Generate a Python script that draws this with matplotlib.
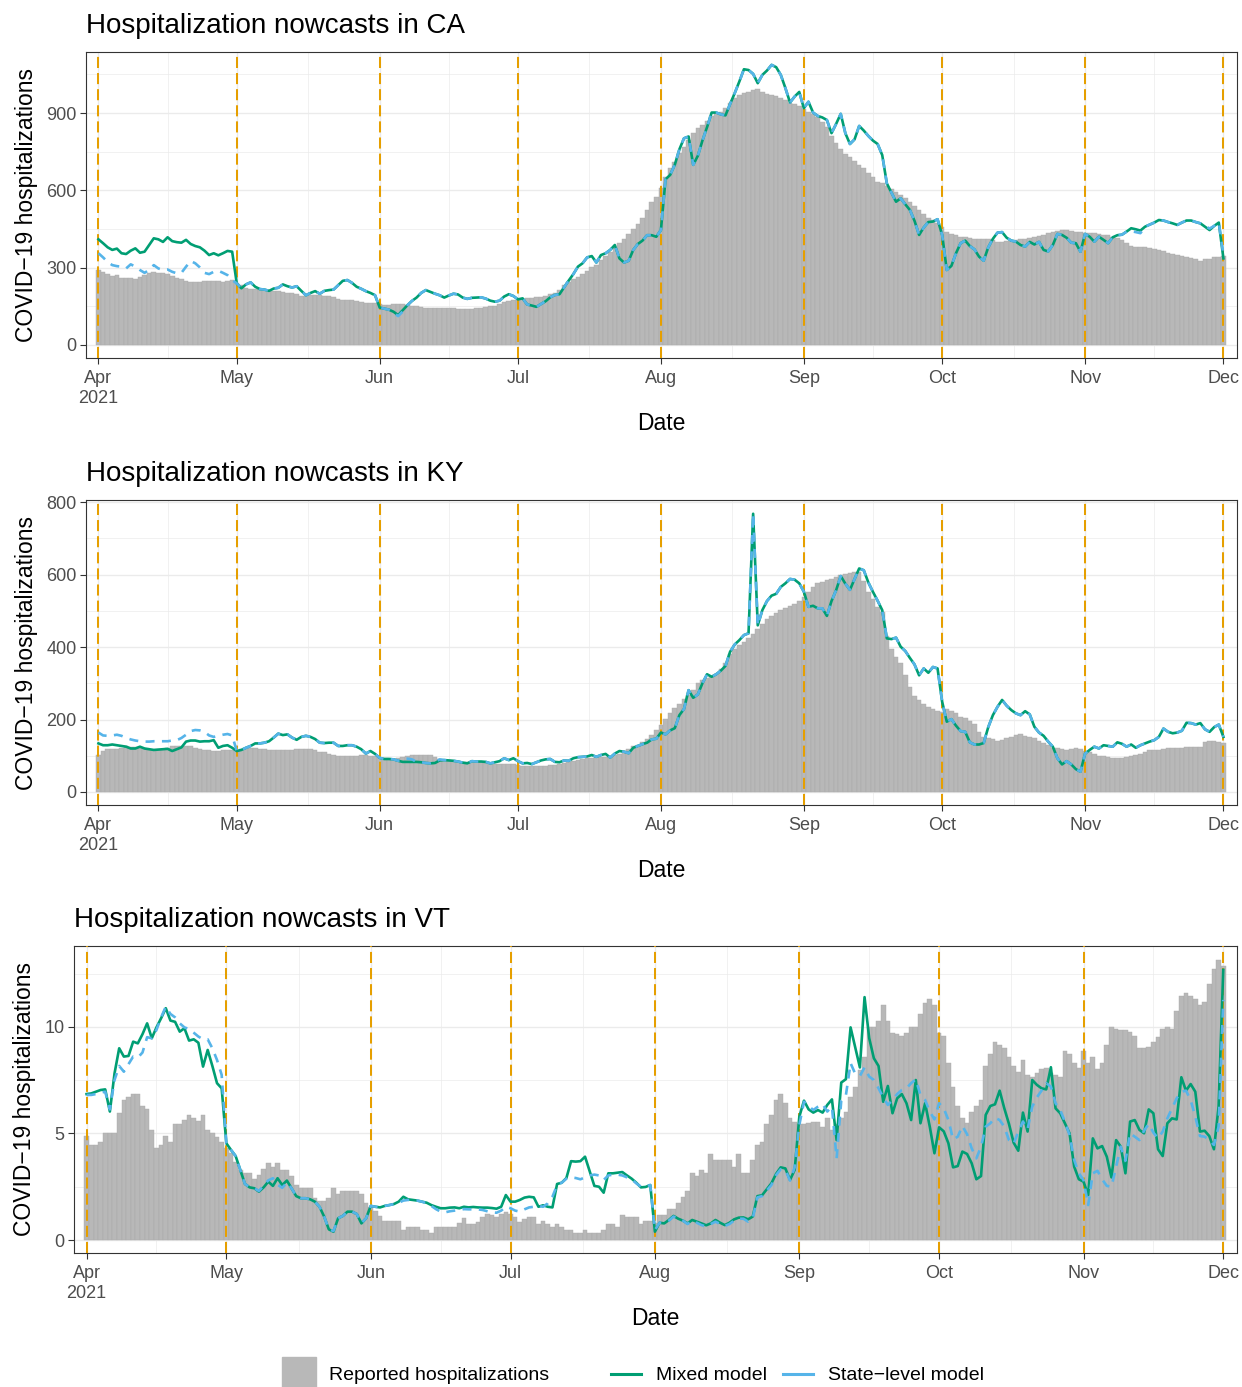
import matplotlib
matplotlib.use('Agg')
import matplotlib.pyplot as plt
from matplotlib.patches import Rectangle
from matplotlib.lines import Line2D
import pandas as pd

plt.rcParams['font.family'] = ['Liberation Sans', 'DejaVu Sans']

# ---- data ----
dates = pd.date_range('2021-04-01', '2021-12-01', freq='D')
month_starts = pd.date_range('2021-04-01', '2021-12-01', freq='MS')
month_labels = ['Apr\n2021', 'May', 'Jun', 'Jul', 'Aug', 'Sep', 'Oct', 'Nov', 'Dec']

ca_reported = [
    291, 285, 276, 269, 270, 260, 260, 260, 258, 265, 270, 278, 283, 281, 278, 274, 268, 261, 255, 247,
    245, 245, 246, 248, 248, 248, 247, 245, 247, 252,
    240, 231, 223, 218, 218, 215, 215, 213, 210, 210, 205, 202, 202, 197, 192, 192, 193, 193, 193, 192,
    192, 187, 180, 176, 176, 174, 171, 166, 163, 163, 163,
    158, 155, 155, 158, 158, 158, 155, 153, 153, 147, 145, 145, 142, 142, 142, 142, 142, 140, 140, 140,
    140, 142, 142, 147, 150, 153, 160, 166, 171, 174,
    176, 180, 184, 184, 187, 187, 192, 197, 202, 215, 231, 245, 255, 265, 276, 289, 302, 311, 328, 344,
    359, 377, 395, 413, 431, 449, 468, 492, 524, 553, 576,
    608, 653, 685, 711, 744, 770, 796, 822, 841, 854, 871, 889, 899, 906, 919, 941, 958, 971, 977, 982,
    990, 992, 980, 975, 972, 967, 959, 951, 941, 936, 928,
    915, 906, 897, 886, 867, 845, 811, 783, 760, 741, 728, 715, 698, 685, 668, 650, 633, 627, 617, 604,
    595, 582, 572, 556, 539, 524, 507, 494, 485, 472,
    456, 440, 431, 425, 420, 418, 414, 412, 411, 410, 410, 407, 401, 401, 404, 407, 407, 410, 412, 414,
    418, 423, 427, 433, 440, 444, 446, 446, 443, 440, 437,
    436, 436, 433, 431, 428, 425, 420, 414, 407, 397, 384, 379, 379, 379, 375, 371, 369, 363, 358, 353,
    349, 345, 343, 338, 332, 327, 332, 335, 340, 343, 345]
ca_mixed = [
    410, 395, 379, 369, 374, 356, 353, 366, 375, 358, 362, 388, 414, 410, 400, 418, 403, 399, 397, 408,
    392, 384, 379, 366, 349, 356, 348, 356, 365, 362,
    239, 220, 235, 243, 226, 217, 215, 210, 219, 222, 235, 228, 223, 228, 210, 193, 202, 209, 199, 210,
    213, 215, 232, 249, 252, 241, 226, 218, 209, 202, 193,
    145, 141, 137, 129, 116, 135, 154, 171, 184, 202, 213, 206, 199, 193, 184, 192, 199, 196, 184, 179,
    183, 184, 185, 180, 172, 168, 172, 188, 197, 190,
    177, 181, 157, 153, 148, 159, 170, 185, 194, 197, 224, 250, 275, 304, 317, 340, 345, 320, 349, 356,
    369, 388, 336, 320, 327, 369, 392, 405, 426, 426, 420,
    446, 643, 660, 699, 759, 802, 809, 699, 734, 793, 845, 902, 902, 895, 891, 935, 977, 1022, 1070, 1067,
    1052, 1016, 1048, 1065, 1087, 1078, 1048, 997, 941, 964, 982,
    919, 944, 902, 889, 883, 873, 822, 858, 897, 822, 780, 798, 850, 832, 811, 793, 780, 737, 627, 591,
    556, 569, 546, 524, 482, 427, 456, 477, 479, 488,
    427, 291, 307, 356, 395, 405, 384, 371, 343, 327, 379, 412, 436, 438, 416, 405, 401, 388, 382, 400,
    390, 400, 369, 363, 388, 431, 427, 416, 397, 395, 362,
    431, 420, 401, 420, 408, 395, 418, 426, 428, 440, 453, 449, 444, 459, 467, 475, 485, 483, 477, 472,
    466, 475, 483, 483, 477, 472, 459, 446, 462, 475, 336]
ca_state = [
    356, 340, 322, 310, 306, 304, 297, 313, 304, 291, 280, 291, 310, 297, 291, 293, 284, 278, 280, 304,
    326, 317, 301, 280, 275, 284, 288, 280, 271, 252,
    239, 220, 235, 243, 226, 217, 215, 210, 219, 222, 235, 228, 223, 228, 210, 193, 202, 209, 199, 210,
    213, 215, 232, 249, 252, 241, 226, 218, 209, 202, 193,
    145, 141, 137, 125, 112, 130, 154, 171, 184, 202, 213, 206, 199, 193, 184, 192, 199, 196, 184, 179,
    183, 184, 185, 180, 172, 168, 172, 188, 197, 190,
    177, 181, 157, 153, 148, 159, 170, 185, 194, 197, 224, 250, 275, 304, 317, 340, 345, 320, 349, 356,
    369, 388, 336, 320, 327, 369, 392, 405, 426, 426, 420,
    446, 643, 660, 699, 759, 802, 809, 699, 734, 793, 845, 902, 902, 895, 891, 935, 977, 1022, 1070, 1067,
    1052, 1016, 1048, 1065, 1087, 1078, 1048, 997, 941, 964, 982,
    919, 944, 902, 889, 883, 873, 822, 858, 897, 822, 780, 798, 850, 832, 811, 793, 780, 737, 627, 591,
    556, 569, 546, 524, 482, 427, 456, 477, 479, 488,
    427, 291, 307, 356, 395, 405, 384, 371, 343, 327, 379, 412, 436, 438, 416, 405, 401, 388, 382, 400,
    390, 400, 369, 363, 388, 431, 427, 416, 397, 395, 362,
    431, 420, 401, 420, 408, 395, 418, 426, 428, 440, 442, 438, 434, 459, 467, 475, 485, 483, 477, 472,
    466, 475, 483, 483, 477, 472, 462, 452, 462, 475, 349]

ky_reported = [
    102, 113, 119, 119, 119, 120, 128, 125, 125, 122, 119, 117, 117, 117, 119, 120, 128, 128, 128, 128,
    128, 122, 119, 117, 115, 113, 113, 115, 117, 115,
    113, 119, 119, 120, 120, 119, 119, 117, 116, 116, 116, 116, 117, 119, 119, 119, 119, 116, 111, 109,
    106, 102, 100, 100, 100, 100, 100, 102, 102, 100, 98,
    93, 93, 93, 91, 93, 97, 100, 102, 103, 103, 103, 102, 97, 91, 88, 88, 86, 85, 83, 83,
    83, 83, 83, 79, 79, 78, 78, 76, 76, 76,
    74, 72, 72, 72, 72, 72, 72, 74, 74, 76, 80, 83, 85, 88, 91, 93, 94, 96, 97, 97,
    98, 102, 106, 113, 119, 126, 131, 139, 146, 157, 171,
    185, 201, 217, 231, 242, 256, 267, 281, 300, 309, 315, 321, 327, 339, 355, 380, 396, 407, 415, 426,
    437, 451, 465, 477, 486, 495, 502, 508, 513, 520, 527,
    539, 553, 566, 576, 580, 585, 589, 593, 598, 602, 604, 606, 606, 582, 553, 532, 510, 497, 430, 395,
    373, 355, 322, 290, 264, 253, 244, 235, 229, 223,
    222, 229, 223, 217, 208, 203, 196, 187, 166, 153, 148, 145, 142, 143, 148, 153, 157, 159, 155, 153,
    148, 140, 134, 129, 122, 120, 118, 116, 118, 120, 118,
    113, 109, 104, 100, 98, 96, 93, 94, 94, 96, 100, 103, 106, 111, 116, 116, 117, 118, 122, 122,
    120, 122, 123, 124, 125, 125, 137, 140, 140, 137, 134]
ky_mixed = [
    134, 129, 129, 131, 129, 127, 125, 120, 120, 125, 120, 118, 116, 117, 118, 119, 113, 118, 123, 139,
    142, 142, 139, 140, 140, 143, 122, 127, 129, 122,
    113, 116, 122, 127, 134, 134, 136, 140, 150, 161, 157, 159, 150, 144, 152, 155, 152, 146, 136, 135,
    136, 136, 127, 127, 129, 129, 125, 118, 106, 113, 105,
    94, 91, 91, 90, 86, 83, 83, 83, 83, 82, 80, 79, 80, 87, 88, 87, 86, 84, 81, 79,
    85, 84, 84, 83, 79, 82, 85, 93, 88, 93,
    85, 79, 80, 77, 82, 87, 90, 91, 83, 82, 87, 86, 93, 96, 97, 98, 102, 97, 102, 105,
    95, 106, 113, 111, 107, 122, 127, 132, 136, 145, 147,
    164, 159, 170, 176, 212, 229, 281, 260, 269, 300, 325, 318, 325, 335, 348, 387, 407, 419, 433, 438,
    768, 460, 502, 527, 542, 547, 566, 576, 588, 586, 576,
    553, 511, 514, 507, 507, 486, 527, 557, 596, 575, 558, 588, 617, 612, 578, 552, 528, 502, 424, 422,
    426, 401, 389, 370, 352, 322, 341, 329, 345, 341,
    249, 194, 201, 183, 168, 166, 137, 131, 131, 135, 179, 212, 235, 254, 238, 226, 217, 212, 223, 214,
    180, 164, 155, 139, 125, 93, 76, 85, 76, 63, 56,
    106, 116, 125, 120, 129, 127, 125, 137, 133, 125, 131, 122, 129, 134, 139, 143, 152, 175, 166, 162,
    164, 169, 191, 190, 186, 190, 173, 166, 179, 186, 152]
ky_state = [
    164, 156, 155, 156, 158, 155, 149, 145, 142, 140, 139, 139, 140, 140, 140, 140, 142, 143, 149, 158,
    168, 171, 170, 166, 156, 152, 155, 158, 160, 156,
    113, 116, 122, 127, 134, 134, 136, 140, 150, 161, 157, 159, 150, 144, 152, 155, 152, 146, 136, 135,
    136, 136, 127, 127, 129, 129, 125, 118, 106, 113, 105,
    94, 91, 91, 90, 86, 92, 92, 90, 83, 82, 80, 79, 82, 90, 88, 87, 86, 84, 81, 79,
    85, 84, 84, 83, 79, 82, 85, 93, 88, 93,
    85, 79, 80, 77, 82, 87, 90, 91, 83, 82, 87, 86, 93, 96, 97, 98, 102, 97, 102, 105,
    95, 106, 113, 111, 107, 122, 127, 132, 136, 145, 147,
    164, 159, 170, 176, 212, 229, 281, 260, 269, 300, 325, 318, 325, 335, 348, 387, 407, 419, 433, 438,
    768, 460, 502, 527, 542, 547, 566, 576, 588, 586, 576,
    553, 511, 514, 507, 507, 486, 527, 557, 596, 575, 558, 588, 617, 612, 578, 552, 528, 502, 424, 422,
    426, 401, 389, 370, 352, 322, 341, 329, 345, 341,
    249, 194, 201, 183, 168, 166, 137, 131, 131, 135, 179, 212, 235, 254, 238, 226, 217, 212, 223, 214,
    180, 164, 155, 139, 125, 93, 76, 85, 76, 63, 56,
    106, 116, 125, 120, 129, 127, 125, 137, 133, 125, 131, 122, 129, 134, 139, 143, 152, 175, 166, 162,
    164, 169, 191, 190, 186, 190, 173, 166, 179, 186, 152]

vt_reported = [
    4.88, 4.46, 4.46, 4.62, 5.04, 5.04, 5.04, 5.95, 6.57, 6.73, 6.85, 6.85, 6.31, 6.13, 5.17, 4.30, 4.46,
    4.88, 4.62, 5.45, 5.45, 5.63, 5.87, 5.71, 5.60, 5.87, 5.17, 5.04, 4.84, 4.62,
    4.30, 4.07, 3.68, 3.29, 3.13, 3.13, 2.85, 3.05, 3.32, 3.63, 3.44, 3.63, 3.29, 3.29, 3.00, 2.58, 2.43,
    2.43, 2.43, 1.96, 1.85, 1.85, 1.96, 2.43, 2.16, 2.32, 2.32, 2.32, 2.32, 2.16, 1.72,
    1.56, 1.38, 1.13, 0.91, 0.91, 0.91, 0.91, 0.47, 0.59, 0.59, 0.59, 0.47, 0.47, 0.34, 0.59, 0.59, 0.59,
    0.59, 0.59, 0.81, 1.02, 0.75, 0.75, 0.86, 1.06, 1.22, 1.17, 1.10, 1.22, 1.33,
    1.22, 1.06, 0.86, 0.97, 1.06, 1.06, 0.75, 0.91, 0.75, 0.59, 0.75, 0.59, 0.47, 0.47, 0.34, 0.34, 0.47,
    0.34, 0.34, 0.34, 0.47, 0.75, 0.75, 0.59, 1.17, 1.06, 1.06, 1.06, 0.75, 0.91, 0.91,
    0.78, 1.17, 1.17, 1.44, 1.44, 1.72, 2.03, 2.32, 3.13, 3.00, 3.29, 3.16, 4.04, 3.76, 3.76, 3.76, 3.76,
    3.44, 4.04, 3.16, 3.16, 3.76, 4.46, 4.62, 5.45, 5.87, 6.57, 6.85, 6.42, 5.71, 5.56,
    5.45, 5.45, 5.51, 5.56, 5.56, 5.29, 5.71, 5.17, 5.45, 5.71, 6.03, 6.73, 7.20, 7.98, 8.61, 9.98, 9.98,
    10.28, 11.03, 10.30, 9.70, 9.67, 9.58, 9.70, 9.98, 9.98, 10.61, 11.14, 11.30, 11.03,
    9.70, 9.58, 8.29, 7.20, 6.29, 5.71, 5.48, 6.03, 6.29, 6.57, 8.17, 8.73, 9.28, 9.15, 9.00, 8.58, 8.17,
    7.90, 8.45, 7.75, 7.67, 7.86, 8.01, 8.06, 7.82, 7.75, 7.64, 8.87, 8.73, 8.29, 8.06,
    8.87, 8.33, 8.58, 8.01, 8.29, 9.15, 9.98, 9.89, 9.86, 9.86, 9.78, 9.58, 9.00, 9.00, 9.05, 9.31, 9.55,
    9.89, 9.98, 9.89, 10.77, 11.46, 11.58, 11.46, 11.30, 11.03, 11.19, 12.02, 12.71, 13.15, 12.86]
vt_mixed = [
    6.85, 6.88, 6.96, 7.04, 7.07, 6.03, 7.82, 9.00, 8.61, 8.64, 9.31, 9.23, 9.66, 10.17, 9.47, 9.98, 10.41,
    10.88, 10.30, 10.24, 9.78, 9.94, 9.36, 9.42, 9.26, 8.14, 8.92, 8.17, 7.36, 7.12,
    4.54, 4.23, 3.94, 3.29, 2.63, 2.47, 2.43, 2.27, 2.47, 2.74, 2.54, 2.90, 2.58, 2.79, 2.43, 2.06, 1.96,
    1.96, 1.91, 1.80, 1.56, 1.10, 0.50, 0.39, 1.02, 1.13, 1.33, 1.33, 1.22, 0.78, 1.02,
    1.60, 1.56, 1.53, 1.60, 1.64, 1.69, 1.80, 2.03, 1.91, 1.88, 1.85, 1.80, 1.75, 1.64, 1.56, 1.49, 1.49,
    1.52, 1.53, 1.49, 1.56, 1.53, 1.55, 1.53, 1.52, 1.52, 1.50, 1.47, 1.56, 2.11,
    1.80, 1.80, 1.88, 1.99, 2.03, 2.00, 1.56, 1.63, 1.56, 1.53, 2.63, 2.69, 2.91, 3.70, 3.68, 3.70, 3.91,
    3.22, 2.54, 2.50, 2.22, 3.13, 3.13, 3.16, 3.19, 3.03, 2.88, 2.69, 2.47, 2.49, 2.58,
    0.39, 0.81, 0.78, 0.94, 1.13, 1.00, 0.91, 0.78, 0.94, 0.86, 0.78, 0.69, 0.78, 0.94, 0.81, 0.70, 0.81,
    0.97, 1.05, 1.06, 0.97, 1.10, 2.06, 2.10, 2.38, 2.66, 3.10, 3.41, 3.36, 2.82, 3.29,
    5.79, 6.54, 6.13, 5.98, 6.10, 5.98, 6.34, 6.60, 4.69, 7.39, 7.55, 9.98, 9.05, 8.10, 11.40, 9.47, 8.53,
    8.17, 6.49, 7.23, 5.95, 6.65, 6.85, 6.42, 5.63, 7.51, 5.48, 6.42, 5.32, 4.07,
    5.29, 5.10, 4.54, 3.41, 3.47, 4.15, 4.04, 3.60, 2.85, 3.00, 5.87, 6.29, 6.37, 7.01, 6.18, 5.45, 4.57,
    4.19, 5.98, 5.09, 7.51, 7.28, 7.12, 7.07, 8.11, 6.18, 5.95, 5.48, 5.01, 3.44, 2.85,
    2.74, 2.11, 4.77, 4.30, 4.41, 3.91, 2.94, 4.69, 4.38, 3.13, 5.56, 5.63, 5.17, 5.01, 6.13, 5.95, 4.26,
    3.94, 5.48, 5.71, 5.66, 7.64, 7.01, 7.32, 6.96, 5.09, 5.13, 4.88, 4.26, 6.26, 12.68]
vt_state = [
    6.81, 6.81, 6.85, 6.91, 6.96, 6.13, 7.51, 8.17, 7.90, 8.26, 8.61, 8.56, 8.80, 9.52, 9.47, 9.86, 10.45,
    10.95, 10.61, 10.45, 10.17, 9.98, 9.90, 9.73, 9.55, 9.42, 9.42, 9.00, 8.45, 7.75,
    4.54, 4.23, 3.94, 3.29, 2.63, 2.47, 2.43, 2.30, 2.55, 2.80, 2.90, 2.60, 2.45, 2.70, 2.43, 2.06, 1.96,
    1.96, 1.91, 1.80, 1.56, 1.10, 0.50, 0.42, 1.02, 1.13, 1.33, 1.33, 1.22, 0.80, 1.02,
    1.60, 1.56, 1.53, 1.60, 1.64, 1.69, 1.75, 1.85, 1.88, 1.88, 1.85, 1.80, 1.72, 1.60, 1.45, 1.33, 1.30,
    1.35, 1.38, 1.41, 1.45, 1.44, 1.44, 1.44, 1.41, 1.35, 1.30, 1.28, 1.38, 1.56,
    1.49, 1.38, 1.33, 1.44, 1.53, 1.56, 1.60, 1.56, 1.72, 2.03, 2.58, 2.69, 2.88, 2.94, 2.91, 2.85, 2.94,
    3.03, 3.07, 3.03, 2.82, 3.03, 3.07, 3.07, 3.03, 2.94, 2.85, 2.66, 2.50, 2.50, 2.58,
    0.47, 0.81, 0.81, 0.91, 1.10, 1.00, 0.91, 0.75, 0.91, 0.81, 0.70, 0.63, 0.75, 0.86, 0.75, 0.66, 0.75,
    0.91, 1.00, 1.00, 0.86, 1.02, 2.00, 2.06, 2.32, 2.58, 3.05, 3.32, 3.29, 2.79, 3.41,
    5.40, 6.49, 6.29, 6.10, 6.26, 6.38, 6.03, 6.26, 3.83, 6.55, 6.80, 8.30, 7.80, 7.70, 8.10, 7.67, 7.51,
    7.12, 6.70, 6.34, 6.57, 6.85, 7.04, 7.12, 7.36, 7.54, 6.81, 6.57, 6.03, 5.66,
    6.42, 6.18, 5.63, 4.72, 4.85, 5.35, 4.97, 4.30, 3.83, 4.38, 5.32, 5.48, 5.74, 5.63, 5.32, 4.69, 4.51,
    5.09, 5.56, 5.20, 6.26, 6.70, 7.01, 7.36, 7.20, 6.42, 6.10, 5.56, 4.93, 3.76, 3.13,
    2.82, 1.64, 3.13, 3.25, 2.85, 2.54, 2.50, 3.44, 4.38, 3.72, 5.01, 4.85, 4.69, 5.13, 5.45, 5.04, 4.77,
    5.09, 5.71, 6.18, 6.65, 6.96, 7.01, 6.57, 5.79, 4.88, 4.85, 4.69, 4.46, 5.32, 11.27]

# ---- styling ----
BAR = '#B8B8B8'
GREEN = '#009E73'
BLUE = '#56B4E9'
ORANGE = '#E69F00'
GRID = '#EBEBEB'
DARK = '#333333'
TICKTXT = '#4D4D4D'

W, H = 1242, 1387
fig = plt.figure(figsize=(W / 100, H / 100), dpi=100)


def px_axes(left, top, right, bottom):
    return fig.add_axes([left / W, 1 - bottom / H, (right - left) / W, (bottom - top) / H])


panels = [
    ('CA', ca_reported, ca_mixed, ca_state, (86, 52, 1237, 358), (-50.5, 1137), [0, 300, 600, 900],
     [150, 450, 750, 1050], ['0', '300', '600', '900']),
    ('KY', ky_reported, ky_mixed, ky_state, (86, 500, 1237, 805), (-36, 806), [0, 200, 400, 600, 800],
     [100, 300, 500, 700], ['0', '200', '400', '600', '800']),
    ('VT', vt_reported, vt_mixed, vt_state, (74, 946, 1237, 1253), (-0.61, 13.8), [0, 5, 10],
     [2.5, 7.5, 12.5], ['0', '5', '10']),
]

minor_x = month_starts[:-1] + (month_starts[1:] - month_starts[:-1]) / 2

for state, rep, mixed, statelvl, box, ylim, yt, ymin, ylab in panels:
    ax = px_axes(*box)
    ax.set_axisbelow(True)
    ax.bar(dates, rep, width=1.0, color=BAR, edgecolor='#A9A9A9', linewidth=0.3, zorder=2)
    for m in month_starts:
        ax.axvline(m, color=ORANGE, lw=1.45, ls=(0, (5.5, 2.5)), zorder=3)
    ax.plot(dates, mixed, color=GREEN, lw=1.9, zorder=4, solid_joinstyle='round')
    ax.plot(dates, statelvl, color=BLUE, lw=1.9, ls=(0, (3.4, 2.8)), zorder=5)

    ax.set_xlim(dates[0] - pd.Timedelta(days=2.7), dates[-1] + pd.Timedelta(days=2.95))
    ax.set_ylim(*ylim)
    ax.set_xticks(month_starts)
    ax.set_xticklabels(month_labels)
    ax.set_xticks(minor_x, minor=True)
    ax.set_yticks(yt)
    ax.set_yticklabels(ylab)
    ax.set_yticks(ymin, minor=True)
    ax.grid(which='major', color=GRID, lw=1.0)
    ax.grid(which='minor', color=GRID, lw=0.5)
    ax.tick_params(which='major', length=4.3, width=0.8, color=DARK, labelcolor=TICKTXT,
                   labelsize=13, pad=2.5)
    ax.tick_params(axis='x', which='major', pad=4.5)
    ax.tick_params(which='minor', length=0)
    for s in ax.spines.values():
        s.set_color(DARK)
        s.set_linewidth(0.8)

    ax.set_title(f'Hospitalization nowcasts in {state}', loc='left', fontsize=20, pad=13.5)
    ax.set_xlabel('Date', fontsize=16.5, labelpad=4)
    ax.set_ylabel('COVID\u221219 hospitalizations', fontsize=16.5, labelpad=6)

# ---- legend (drawn in pixel coordinates at the bottom) ----
lg = fig.add_axes([0, 0, 1, 1], zorder=10)
lg.set_xlim(0, W)
lg.set_ylim(H, 0)
lg.axis('off')
lg.add_patch(Rectangle((282, 1357), 34, 30, color=BAR))
lg.text(329, 1376, 'Reported hospitalizations', fontsize=14, va='center', ha='left')
lg.add_line(Line2D([611, 641], [1374, 1374], color=GREEN, lw=2.2))
lg.text(656, 1376, 'Mixed model', fontsize=14, va='center', ha='left')
lg.add_line(Line2D([783, 813], [1374, 1374], color=BLUE, lw=2.2))
lg.text(828, 1376, 'State\u2212level model', fontsize=14, va='center', ha='left')

fig.savefig('out.png', dpi=100)
